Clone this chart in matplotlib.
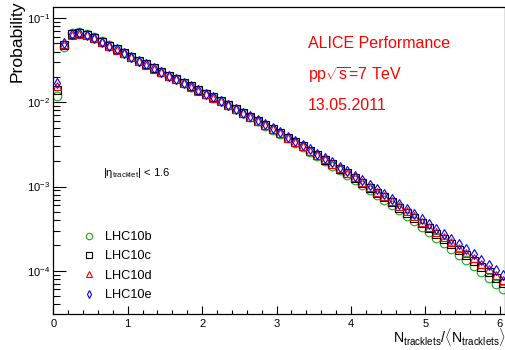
import math
import matplotlib
matplotlib.use("Agg")
import matplotlib.pyplot as plt
from matplotlib.ticker import FixedLocator, MultipleLocator, LogLocator, NullFormatter, FuncFormatter

plt.rcParams["font.family"] = ["Liberation Sans", "DejaVu Sans"]
plt.rcParams["mathtext.fontset"] = "custom"
plt.rcParams["mathtext.rm"] = "Liberation Sans"
plt.rcParams["mathtext.it"] = "Liberation Sans"
plt.rcParams["mathtext.bf"] = "Liberation Sans:bold"

# KNO-scaled multiplicity: bin centres of N_tracklets / <N_tracklets>
kno_x = [0.05, 0.15, 0.25, 0.35, 0.45, 0.55, 0.65, 0.75, 0.85, 0.95,
         1.05, 1.15, 1.25, 1.35, 1.45, 1.55, 1.65, 1.75, 1.85, 1.95,
         2.05, 2.15, 2.25, 2.35, 2.45, 2.55, 2.65, 2.75, 2.85, 2.95,
         3.05, 3.15, 3.25, 3.35, 3.45, 3.55, 3.65, 3.75, 3.85, 3.95,
         4.05, 4.15, 4.25, 4.35, 4.45, 4.55, 4.65, 4.75, 4.85, 4.95,
         5.05, 5.15, 5.25, 5.35, 5.45, 5.55, 5.65, 5.75, 5.85, 5.95,
         6.05]

prob_lhc10b = [0.0118, 0.0457, 0.0664, 0.0676, 0.0643, 0.0589, 0.0528, 0.0474, 0.0427, 0.0385,
               0.0347, 0.0313, 0.0282, 0.0255, 0.0231, 0.0208, 0.0189, 0.0171, 0.0154, 0.0139,
               0.0126, 0.0114, 0.01024, 0.00923, 0.00829, 0.00742, 0.00663, 0.00592, 0.00529, 0.00471,
               0.00420, 0.00373, 0.00330, 0.00292, 0.00257, 0.00228, 0.00200, 0.00176, 0.00155, 0.00136,
               0.00119, 0.00104, 0.000911, 0.000794, 0.000691, 0.000599, 0.000519, 0.000449, 0.000388, 0.000334,
               0.000288, 0.000247, 0.000212, 0.000182, 0.000155, 0.000133, 0.000114, 0.0000967, 0.0000825, 0.0000704,
               0.0000600]

prob_lhc10c = [0.0141, 0.0478, 0.0646, 0.0661, 0.0631, 0.0582, 0.0525, 0.0473, 0.0427, 0.0385,
               0.0347, 0.0313, 0.0282, 0.0255, 0.0231, 0.0208, 0.0189, 0.0171, 0.0155, 0.0140,
               0.01264, 0.01143, 0.01029, 0.00928, 0.00835, 0.00748, 0.00670, 0.00600, 0.00537, 0.00479,
               0.00428, 0.00381, 0.00338, 0.00300, 0.00265, 0.00236, 0.00208, 0.00184, 0.00162, 0.00143,
               0.00126, 0.00111, 0.000968, 0.000848, 0.000741, 0.000646, 0.000563, 0.000489, 0.000424, 0.000368,
               0.000319, 0.000275, 0.000238, 0.000205, 0.000176, 0.000152, 0.000130, 0.000112, 0.0000961, 0.0000826,
               0.0000709]

prob_lhc10d = [0.0155, 0.0490, 0.0631, 0.0653, 0.0624, 0.0575, 0.0519, 0.0468, 0.0422, 0.0381,
               0.0343, 0.0309, 0.0279, 0.0252, 0.0228, 0.0206, 0.0187, 0.0169, 0.0153, 0.0138,
               0.0126, 0.0114, 0.0103, 0.00924, 0.00833, 0.00743, 0.00666, 0.00597, 0.00535, 0.00478,
               0.00428, 0.00381, 0.00339, 0.00302, 0.00267, 0.00237, 0.00210, 0.00186, 0.00164, 0.00145,
               0.00128, 0.00113, 0.000991, 0.000870, 0.000762, 0.000666, 0.000582, 0.000508, 0.000441, 0.000384,
               0.000334, 0.000289, 0.000250, 0.000217, 0.000187, 0.000162, 0.000140, 0.000120, 0.000104, 0.0000894,
               0.0000771]

prob_lhc10e = [0.0170, 0.0501, 0.0646, 0.0661, 0.0631, 0.0582, 0.0525, 0.0473, 0.0427, 0.0385,
               0.0347, 0.0313, 0.0282, 0.0255, 0.0231, 0.0208, 0.0189, 0.0171, 0.0155, 0.0140,
               0.0127, 0.0115, 0.0104, 0.00935, 0.00843, 0.00757, 0.00679, 0.00610, 0.00547, 0.00490,
               0.00439, 0.00392, 0.00349, 0.00311, 0.00276, 0.00246, 0.00218, 0.00194, 0.00172, 0.00152,
               0.00135, 0.00119, 0.00105, 0.000923, 0.000811, 0.000711, 0.000624, 0.000546, 0.000476, 0.000416,
               0.000363, 0.000316, 0.000275, 0.000239, 0.000207, 0.000180, 0.000156, 0.000135, 0.000117, 0.000101,
               0.0000879]

period_labels = ["LHC10b", "LHC10c", "LHC10d", "LHC10e"]
x_ticks = [0, 1, 2, 3, 4, 5, 6]
y_ticks = [1e-4, 1e-3, 1e-2, 1e-1]

W, H = 506, 350
fig = plt.figure(figsize=(W / 100, H / 100), dpi=100)
ax = fig.add_axes([53.3 / W, 1 - 314 / H, (505.3 - 53.3) / W, (314 - 7.3) / H])

styles = [
    dict(marker="o", ms=6.2, mec="#1aa81a"),
    dict(marker="s", ms=5.2, mec="black"),
    dict(marker="^", ms=6.0, mec="red"),
    dict(marker="d", ms=5.4, mec="blue"),
]
series = [prob_lhc10b, prob_lhc10c, prob_lhc10d, prob_lhc10e]
for vals, lab, st in zip(series, period_labels, styles):
    ax.plot(kno_x, vals, ls="none", mfc="none", mew=0.8, label=lab, **st)

ax.set_yscale("log")
ax.set_xlim(0, 6.075)
ax.set_ylim(3.06e-5, 0.1345)

ax.xaxis.set_major_locator(FixedLocator(x_ticks))
ax.xaxis.set_minor_locator(MultipleLocator(0.2))
ax.yaxis.set_major_locator(FixedLocator(y_ticks))
ax.yaxis.set_minor_locator(LogLocator(base=10, subs=range(2, 10)))
ax.yaxis.set_minor_formatter(NullFormatter())
ax.yaxis.set_major_formatter(FuncFormatter(
    lambda v, p: r"$\mathregular{10^{%d}}$" % round(math.log10(v))))

ax.tick_params(axis="both", which="both", direction="in", top=False, right=False,
               labelsize=8, width=0.8, color="black")
ax.tick_params(axis="x", which="major", length=6, pad=3.5)
ax.tick_params(axis="x", which="minor", length=2.6)
ax.tick_params(axis="y", which="major", length=9.5, pad=2.5)
ax.tick_params(axis="y", which="minor", length=4.8)
for sp in ax.spines.values():
    sp.set_linewidth(0.9)

# axis titles, ROOT style (aligned to the axis ends)
fig.text(17 / W, 1 - 1 / H, "Probability", rotation=90, ha="center", va="top", fontsize=12.6)
fig.text(505.5 / W, 1 - 343 / H,
         r"$\mathrm{N}_{\mathrm{tracklets}}/\langle\mathrm{N}_{\mathrm{tracklets}}\rangle$",
         ha="right", va="baseline", fontsize=10.2)

# annotations
red = "#ff0000"
fig.text(308 / W, 1 - 43 / H, "ALICE Performance", color=red, fontsize=11.5, va="center", ha="left")
fig.text(308 / W, 1 - 75 / H, r"pp$\sqrt{\mathrm{s}}$=7 TeV", color=red, fontsize=11.5,
         va="center", ha="left")
fig.text(308 / W, 1 - 105 / H, "13.05.2011", color=red, fontsize=11.5, va="center", ha="left")
fig.text(103 / W, 1 - 173 / H, r"$|\eta_{\mathrm{tracklet}}|$ < 1.6", fontsize=8,
         va="center", ha="left")

ax.legend(loc="upper left", bbox_to_anchor=(83 / W, 1 - 231 / H), bbox_transform=fig.transFigure,
          frameon=False, fontsize=9.2, numpoints=1, markerscale=0.75, handlelength=1.0,
          handletextpad=0.75, labelspacing=0.58, borderpad=0, borderaxespad=0)

fig.savefig("out.png", dpi=100)
